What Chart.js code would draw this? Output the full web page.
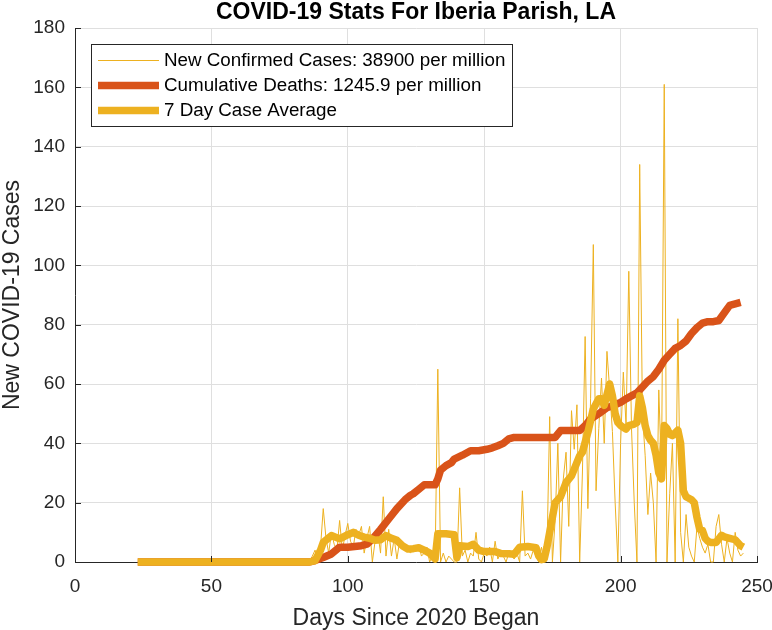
<!DOCTYPE html>
<html>
<head>
<meta charset="utf-8">
<script src="https://cdn.jsdelivr.net/npm/chart.js@4.4.0/dist/chart.umd.min.js"></script>
<style>
  html, body { margin: 0; padding: 0; background: #fff; }
  #wrap { width: 772px; height: 630px; }
</style>
</head>
<body>
<div id="wrap"><canvas id="covid-chart" width="772" height="630"></canvas></div>
<script>
// Chart text
const chartTitle = "COVID-19 Stats For Iberia Parish, LA";
const xTitle = "Days Since 2020 Began";
const yTitle = "New COVID-19 Cases";
const seriesLabels = [
  "New Confirmed Cases: 38900 per million",
  "Cumulative Deaths: 1245.9 per million",
  "7 Day Case Average"
];

// Daily new cases, first value is day 23, one value per day up to day 245
const firstDay = 23;
const newCases = [
  0, 0, 0, 0, 0, 0, 0, 0, 0, 0,        // 23-32
  0, 0, 0, 0, 0, 0, 0, 0, 0, 0,        // 33-42
  0, 0, 0, 0, 0, 0, 0, 0, 0, 0,        // 43-52
  0, 0, 0, 0, 0, 0, 0, 0, 0, 0,        // 53-62
  0, 0, 0, 0, 0, 0, 0, 0, 0, 0,        // 63-72
  0, 0, 0, 0, 0, 0, 0, 0, 0, 0,        // 73-82
  0, 0, 0,                             // 83-85
  0, 2, 4, 0, 5, 18, 8, 3, 10, 6,      // 86-95
  4, 14, 4, 9, 13, 7, 5, 11, 9, 12,    // 96-105
  3, 8, 12, 0, 7, 10, 3, 22, 2, 11,    // 106-115
  2, 8, 1, 7, 5, 6, 4, 3, 5, 4,        // 116-125
  6, 2, 3, 5, 0, 2, 0, 65, 0, 3,       // 126-135
  0, 2, 1, 0, 0, 25, 2, 4, 0, 3,       // 136-145
  2, 10, 1, 0, 3, 2, 5, 0, 7, 1,       // 146-155
  3, 2, 0, 3, 2, 1, 3, 0, 24, 2,       // 156-165
  3, 1, 4, 2, 0, 5, 0, 3, 49, 0,       // 166-175
  14, 40, 0, 28, 37, 12, 51, 38, 53, 0,    // 176-185
  30, 76, 18, 55, 107, 24, 45, 62, 40, 71, // 186-195
  58, 44, 20, 0, 40, 64, 46, 98, 45, 20,   // 196-205
  0, 134, 50, 36, 16, 30, 20, 0, 58, 30,   // 206-215
  161, 0, 23, 40, 0, 82, 10, 0, 16, 5,     // 216-225
  2, 0, 12, 8, 5, 3, 6, 0, 0, 12,          // 226-235
  16, 6, 0, 8, 3, 0, 10, 4, 2, 3           // 236-245
];

// Cumulative deaths, read at its bends and steps
const deathDays = [23, 86, 88, 91, 94, 97, 100, 105, 107, 109, 112, 115, 118, 121, 123, 124, 126, 128, 132, 133,
  134, 136, 138, 139, 142, 143, 145, 148, 151, 153, 155, 157, 159, 161, 163, 165, 176, 178, 185, 187,
  189, 192, 195, 198, 200, 202, 204, 206, 208, 210, 212, 214, 216, 218, 220, 222, 224, 226, 228, 230,
  232, 234, 236, 238, 240, 242, 244];
const deathValues = [0, 0, 0.5, 1.5, 2.7, 5, 5, 5.5, 6, 7.7, 11, 14.5, 18, 21, 22.5, 23, 24.5, 26, 26, 28,
  31, 32.5, 33.5, 34.7, 36, 36.5, 37.5, 37.5, 38, 38.5, 39.2, 40, 41.5, 42, 42, 42, 42, 44.3, 44.3, 46,
  48.2, 50, 52, 53, 53.8, 55, 56, 57, 59, 61, 62.5, 65, 68, 70, 72, 73, 74.5, 77, 79, 80.5,
  81, 81, 81.4, 84, 86.5, 87, 87.5];

// 7 day case average
const avgDays = [23, 86, 88, 90, 91, 94, 97, 100, 102, 104, 106, 108, 110, 112, 114, 116, 118, 120, 122, 124,
  126, 128, 130, 132, 133, 136, 139, 140, 141, 144, 146, 148, 150, 154, 156, 159, 161, 163, 166, 169,
  170, 171, 172, 173, 174, 176, 178, 180, 182, 183, 185, 186, 188, 190, 192, 193, 194, 196, 197, 198,
  199, 200, 202, 203, 205, 206, 207, 208, 209, 210, 211, 212, 213, 214, 215, 216, 217, 218, 219, 220,
  221, 222, 223, 224, 226, 227, 228, 229, 230, 231, 232, 233, 235, 237, 238, 240, 242, 243, 244, 245];
const avgValues = [0, 0, 0.5, 4, 6.6, 8.9, 7.8, 9.2, 10, 9, 8.4, 8, 7.3, 7.5, 8.9, 8, 7.3, 5.5, 4.4, 4.5,
  4.8, 4, 3, 1, 9.5, 9.5, 9.2, 1.5, 5.5, 5.2, 6, 4, 3.5, 3.5, 2.9, 2.8, 2.6, 5, 5.2, 4.8,
  2, 0.8, 1, 5, 10, 20, 22, 26.8, 29, 31.3, 35.8, 37, 43.7, 51.6, 55, 55, 52.8, 60, 56, 50,
  47, 46, 44.8, 46, 46.5, 47, 56, 52, 46, 42.6, 41, 40, 36, 30, 28, 46, 45, 43, 42.6, 43.5,
  44.4, 40, 24, 22, 21, 20, 15, 11, 10.6, 8, 7, 6.6, 6.6, 9, 8.5, 8, 7.5, 6.5, 5.5, 5];

// Axis ranges
const xRange = [0, 250];
const yRange = [0, 180];
const xStep = 50;
const yStep = 20;

const FONT = '"Liberation Sans", Arial, Helvetica, sans-serif';
const TEXT_COLOR = "#262626";
const GRID_COLOR = "#dfdfdf";

function toPoints(xs, ys) {
  return xs.map((x, i) => ({ x: x, y: ys[i] }));
}

// MATLAB style title over the axes
const titlePlugin = {
  id: "matlabTitle",
  afterDraw(chart) {
    const ctx = chart.ctx;
    const area = chart.chartArea;
    ctx.save();
    ctx.font = "bold 23px " + FONT;
    ctx.fillStyle = "#000";
    ctx.textAlign = "center";
    ctx.textBaseline = "middle";
    ctx.fillText(chartTitle, (area.left + area.right) / 2, 13);
    ctx.restore();
  }
};

// Inward tick marks on the left and bottom axes
const tickPlugin = {
  id: "inwardTicks",
  afterDatasetsDraw(chart) {
    const ctx = chart.ctx;
    const area = chart.chartArea;
    const xs = chart.scales.x;
    const ys = chart.scales.y;
    ctx.save();
    ctx.strokeStyle = TEXT_COLOR;
    ctx.lineWidth = 1;
    ctx.beginPath();
    xs.ticks.forEach((t) => {
      const px = Math.round(xs.getPixelForValue(t.value)) + 0.5;
      ctx.moveTo(px, area.bottom);
      ctx.lineTo(px, area.bottom - 6);
    });
    ys.ticks.forEach((t) => {
      const py = Math.round(ys.getPixelForValue(t.value)) + 0.5;
      ctx.moveTo(area.left, py);
      ctx.lineTo(area.left + 6, py);
    });
    ctx.stroke();
    ctx.restore();
  }
};

// Legend box inside the plot, top left
const legendPlugin = {
  id: "insideLegend",
  afterDraw(chart) {
    const ctx = chart.ctx;
    const area = chart.chartArea;
    const left = area.left + 16;
    const top = area.top + 16;
    const w = 421;
    const h = 82;
    ctx.save();
    ctx.fillStyle = "#fff";
    ctx.fillRect(left, top, w, h);
    ctx.strokeStyle = TEXT_COLOR;
    ctx.lineWidth = 1;
    ctx.strokeRect(left + 0.5, top + 0.5, w, h);
    ctx.font = "18.8px " + FONT;
    ctx.textAlign = "left";
    ctx.textBaseline = "middle";
    chart.data.datasets.forEach((ds, i) => {
      const y = top + 16.5 + i * 25;
      ctx.strokeStyle = ds.borderColor;
      ctx.lineWidth = ds.borderWidth;
      ctx.beginPath();
      ctx.moveTo(left + 7, y);
      ctx.lineTo(left + 68, y);
      ctx.stroke();
      ctx.fillStyle = "#000";
      ctx.fillText(ds.label, left + 73, y + 0.5);
    });
    ctx.restore();
  }
};

const ctx = document.getElementById("covid-chart").getContext("2d");
const covidChart = new Chart(ctx, {
  type: "line",
  data: {
    datasets: [
      {
        label: seriesLabels[0],
        data: newCases.map((v, i) => ({ x: firstDay + i, y: v })),
        borderColor: "#EDB120",
        borderWidth: 1,
        order: 3
      },
      {
        label: seriesLabels[1],
        data: toPoints(deathDays, deathValues),
        borderColor: "#D95319",
        borderWidth: 7.5,
        order: 2
      },
      {
        label: seriesLabels[2],
        data: toPoints(avgDays, avgValues),
        borderColor: "#EDB120",
        borderWidth: 7.5,
        order: 1
      }
    ]
  },
  options: {
    responsive: false,
    animation: false,
    clip: false,
    layout: {
      padding: { top: 28, right: 0, bottom: 0, left: 0 }
    },
    elements: {
      point: { radius: 0 },
      line: { tension: 0, borderJoinStyle: "round", borderCapStyle: "butt", fill: false }
    },
    plugins: {
      legend: { display: false },
      tooltip: { enabled: false },
      title: { display: false }
    },
    scales: {
      x: {
        type: "linear",
        min: xRange[0],
        max: xRange[1],
        afterFit: (s) => { s.height = 68; s.paddingRight = 15; },
        ticks: {
          stepSize: xStep,
          color: TEXT_COLOR,
          font: { family: FONT, size: 19 },
          padding: 13,
          maxRotation: 0
        },
        grid: { color: GRID_COLOR, drawTicks: false },
        border: { color: TEXT_COLOR, width: 1 },
        title: {
          display: true,
          text: xTitle,
          color: TEXT_COLOR,
          font: { family: FONT, size: 23, lineHeight: 1 },
          padding: { top: 0, bottom: 0 }
        }
      },
      y: {
        type: "linear",
        min: yRange[0],
        max: yRange[1],
        afterFit: (s) => { s.width = 75; },
        ticks: {
          stepSize: yStep,
          color: TEXT_COLOR,
          font: { family: FONT, size: 19 },
          padding: 10
        },
        grid: { color: GRID_COLOR, drawTicks: false },
        border: { color: TEXT_COLOR, width: 1 },
        title: {
          display: true,
          text: yTitle,
          color: TEXT_COLOR,
          font: { family: FONT, size: 23, lineHeight: 1 },
          padding: { top: 1.5, bottom: 0 }
        }
      }
    }
  },
  plugins: [tickPlugin, legendPlugin, titlePlugin]
});
</script>
</body>
</html>
